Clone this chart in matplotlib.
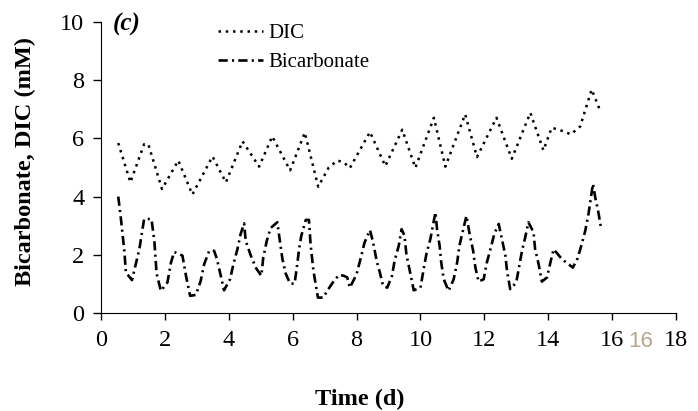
import numpy as np
import matplotlib
matplotlib.use('Agg')
import matplotlib.pyplot as plt

plt.rcParams['font.family'] = ['Liberation Serif', 'DejaVu Serif']

# DIC (mM) vs time (d)
dic_t = [0.54, 0.92, 1.35, 1.48, 1.91, 2.42, 2.86, 3.49, 3.91, 4.43, 4.95, 5.36,
         5.92, 6.38, 6.80, 7.13, 7.40, 7.60, 7.79, 8.42, 8.90, 9.43, 9.84, 10.42,
         10.78, 11.40, 11.77, 12.38, 12.86, 13.44, 13.85, 14.11, 14.43, 14.71,
         15.00, 15.36, 15.63]
dic_v = [5.84, 4.49, 5.80, 5.80, 4.26, 5.24, 4.07, 5.38, 4.49, 5.90, 5.03, 6.07,
         4.90, 6.20, 4.34, 5.00, 5.24, 5.18, 4.98, 6.22, 5.05, 6.30, 4.99, 6.71,
         5.03, 6.83, 5.36, 6.71, 5.30, 6.88, 5.59, 6.37, 6.26, 6.14,
         6.41, 7.68, 6.94]

# Bicarbonate (mM) vs time (d)
bic_t = [0.54, 0.62, 0.73, 0.78, 0.97, 1.20, 1.35, 1.58, 1.67, 1.74, 1.875, 2.08,
         2.19, 2.29, 2.55, 2.66, 2.79, 2.97, 3.12, 3.23, 3.39, 3.54, 3.63, 3.75,
         3.85, 4.04, 4.15, 4.27, 4.37, 4.48, 4.53, 4.69, 4.86, 5.02, 5.08, 5.19,
         5.31, 5.52, 5.60, 5.68, 5.78, 5.92, 6.06, 6.13, 6.20, 6.27, 6.41, 6.51,
         6.56, 6.65, 6.79, 6.96, 7.08, 7.27, 7.45, 7.60, 7.71, 7.79, 8.00, 8.15,
         8.25, 8.42, 8.52, 8.63, 8.73, 8.83, 8.96, 9.11, 9.19, 9.32, 9.41, 9.50,
         9.56, 9.67, 9.79, 10.00, 10.10, 10.19, 10.31, 10.47, 10.52, 10.60, 10.65,
         10.73, 10.88, 11.04, 11.15, 11.22, 11.33, 11.44, 11.54, 11.65, 11.72,
         11.82, 11.98, 12.08, 12.19, 12.31, 12.45, 12.55, 12.66, 12.71, 12.81,
         13.00, 13.10, 13.18, 13.28, 13.38, 13.54, 13.59, 13.70, 13.80, 13.96,
         14.08, 14.17, 14.43, 14.77, 14.92, 15.05, 15.16, 15.26, 15.40, 15.47,
         15.57, 15.65]
bic_v = [4.00, 3.27, 2.14, 1.39, 1.13, 2.19, 3.23, 3.23, 2.48, 1.36, 0.76, 1.05,
         1.73, 2.10, 1.97, 1.28, 0.59, 0.62, 1.10, 1.68, 2.14, 2.14, 1.85, 1.28,
         0.78, 1.16, 1.70, 2.19, 2.71, 3.08, 2.48, 1.97, 1.53, 1.28, 1.91, 2.48,
         2.92, 3.12, 2.47, 1.85, 1.36, 1.01, 1.01, 1.56, 2.19, 2.65, 3.20, 3.20,
         2.37, 1.45, 0.53, 0.53, 0.76, 1.07, 1.31, 1.28, 1.22, 0.87, 1.33, 1.97,
         2.42, 2.85, 2.42, 1.79, 1.39, 0.93, 0.87, 1.28, 1.79, 2.31, 2.88, 2.66,
         2.02, 1.43, 0.78, 0.87, 1.50, 2.05, 2.54, 3.46, 2.88, 2.31, 1.74,
         1.16, 0.76, 1.16, 1.74, 2.31, 2.83, 3.34, 2.71, 2.14, 1.56,
         1.08, 1.16, 1.74, 2.19, 2.71, 3.06, 2.54, 1.97, 1.45, 0.82,
         1.05, 1.66, 2.14, 2.60, 3.12, 2.77, 2.19, 1.68, 1.08, 1.22,
         1.79, 2.19, 1.85, 1.56, 1.88, 2.37, 2.83, 3.40, 4.44, 3.98,
         3.46, 2.94]

fig = plt.figure(figsize=(6.98, 4.11), dpi=100)
ax = fig.add_axes([101 / 698, 1 - 313 / 411, 575 / 698, 291 / 411])

ax.plot(dic_t, dic_v, color='black', lw=1.8, linestyle=(0, (1.0, 1.9)),
        label='DIC')
ax.plot(bic_t, bic_v, color='black', lw=1.9, linestyle=(0, (3.5, 1.6, 0.8, 1.6)),
        label='Bicarbonate')

ax.set_xlim(0, 18)
ax.set_ylim(0, 10)
ax.set_xticks(np.arange(0, 19, 2))
ax.set_yticks(np.arange(0, 11, 2))
ax.tick_params(axis='y', direction='out', length=6, width=1, labelsize=17.5, pad=6)
ax.tick_params(axis='x', direction='out', length=5, width=1, labelsize=17.5, pad=7)
for s in ['top', 'right']:
    ax.spines[s].set_visible(False)

ax.set_xlabel('Time (d)', fontsize=17.5, fontweight='bold')
ax.xaxis.set_label_coords((360 - 101) / 575, -0.26)
ax.set_ylabel('Bicarbonate, DIC (mM)', fontsize=17.5, fontweight='bold')
ax.yaxis.set_label_coords(-0.113, 0.52)

ax.text(12 / 575, 1.03, '(c)', transform=ax.transAxes, fontsize=18,
        fontweight='bold', fontstyle='italic', va='top')
ax.legend(loc='upper left', bbox_to_anchor=(0.17, 1.06), frameon=False,
          fontsize=15, handlelength=2.2, handletextpad=0.25, labelspacing=0.45)

fig.text(628 / 698, 1 - 347 / 411, '16', color='#b5a88a', fontsize=16,
         family='Liberation Sans')

fig.savefig('out.png', dpi=100)
